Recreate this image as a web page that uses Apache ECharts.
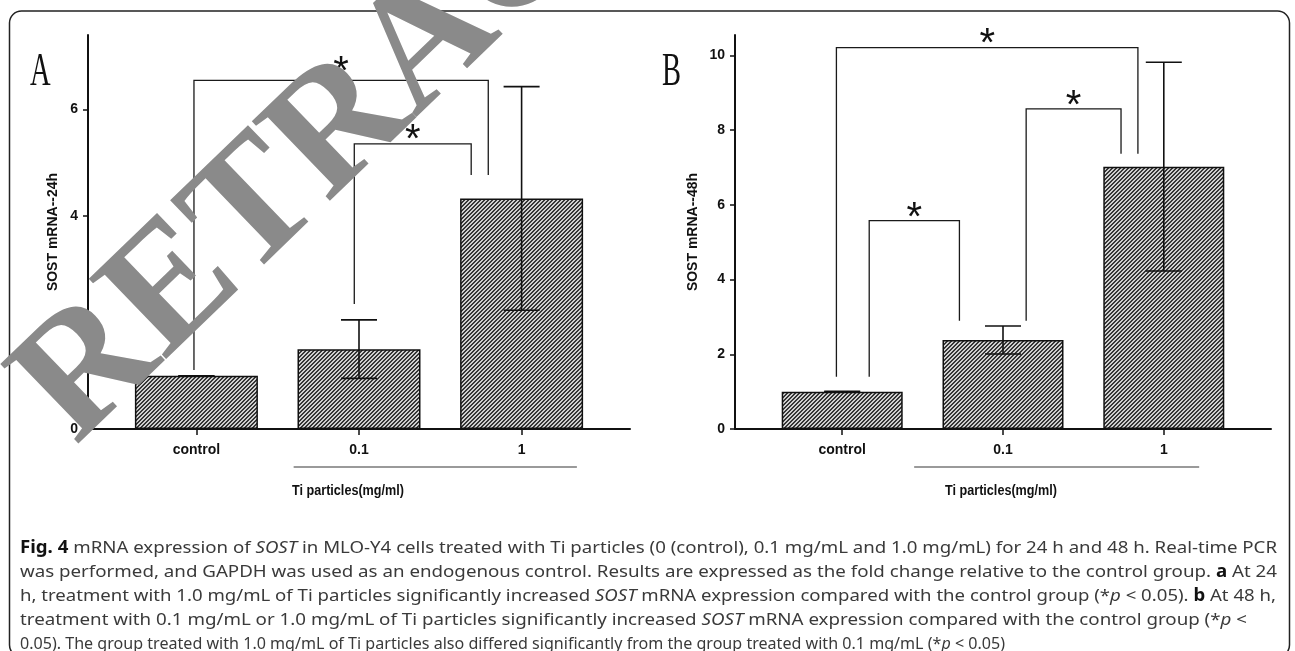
<!DOCTYPE html>
<html><head><meta charset="utf-8">
<script src="https://cdn.jsdelivr.net/npm/echarts@6/dist/echarts.min.js"></script>
<style>html,body{margin:0;padding:0;background:#fff}#c{width:1295px;height:651px}</style>
</head><body><div id="c"></div>
<script>
// ---------- data ----------
const categories = ['control', '0.1', '1'];
const catPos = [0, 1, 2];
const yTicksA = [0, 2, 4, 6];
const yTicksB = [0, 2, 4, 6, 8, 10];
const meanA = [1.0, 1.5, 4.33];
const sdA = [0, 0.55, 2.1];
const meanB = [1.0, 2.385, 7.025];
const sdB = [0.01, 0.375, 2.795];
// [xLeft, yLeftEnd, xRight, yRightEnd, yTop, yStar]
const bracketsA = [
  [-0.015, 1.11, 1.795, 4.77, 6.547, 6.86],
  [0.971, 2.35, 1.69, 4.77, 5.357, 5.59]
];
const bracketsB = [
  [-0.036, 1.40, 1.839, 7.37, 10.21, 10.53],
  [1.144, 2.90, 1.734, 7.37, 8.57, 8.88],
  [0.168, 1.40, 0.729, 2.90, 5.58, 5.88]
];
const groupSpanA = [0.598, 2.34];
const groupSpanB = [0.4475, 2.22];
const yNameA = 'SOST mRNA--24h';
const yNameB = 'SOST mRNA--48h';
const xTitle = 'Ti particles(mg/ml)';
const captionLines = [
  [['b', 'Fig. 4'], ['', ' mRNA expression of '], ['i', 'SOST'], ['', ' in MLO-Y4 cells treated with Ti particles (0 (control), 0.1 mg/mL and 1.0 mg/mL) for 24 h and 48 h. Real-time PCR']],
  [['', 'was performed, and GAPDH was used as an endogenous control. Results are expressed as the fold change relative to the control group. '], ['b', 'a'], ['', ' At 24']],
  [['', 'h, treatment with 1.0 mg/mL of Ti particles significantly increased '], ['i', 'SOST'], ['', ' mRNA expression compared with the control group (*'], ['i', 'p'], ['', ' < 0.05). '], ['b', 'b'], ['', ' At 48 h,']],
  [['', 'treatment with 0.1 mg/mL or 1.0 mg/mL of Ti particles significantly increased '], ['i', 'SOST'], ['', ' mRNA expression compared with the control group (*'], ['i', 'p'], ['', ' <']],
  [['', '0.05). The group treated with 1.0 mg/mL of Ti particles also differed significantly from the group treated with 0.1 mg/mL (*'], ['i', 'p'], ['', ' < 0.05)']]
];
const captionWidths = [1257, 1257, 1256, 1227, 985];

// ---------- helpers ----------
const SANS = 'Liberation Sans, Arial, sans-serif';
const CAP_FONT = 'Noto Sans';
const CAP_SIZE = 17;
const mctx = document.createElement('canvas').getContext('2d');
function segFont(k, size, fam, baseWeight) {
  const st = k === 'i' ? 'italic ' : '';
  const wt = k === 'b' ? 'bold ' : (baseWeight ? baseWeight + ' ' : '');
  return st + wt + size + 'px ' + fam;
}
function measureSegs(segs, size, fam, baseWeight) {
  let w = 0;
  segs.forEach(s => { mctx.font = segFont(s[0], size, fam, baseWeight); w += mctx.measureText(s[1]).width; });
  return w;
}
function hatch() {
  const c = document.createElement('canvas');
  c.width = 4; c.height = 4;
  const g = c.getContext('2d');
  g.fillStyle = '#cfcfcf'; g.fillRect(0, 0, 4, 4);
  g.fillStyle = '#353535';
  for (let i = 0; i < 4; i++) { g.fillRect(i, 3 - i, 1, 1); g.fillRect((i + 1) % 4, 3 - i, 1, 1); }
  return c;
}
const pattern = { image: hatch(), repeat: 'repeat' };

function xAxisCfg(gi) {
  return {
    type: 'value', gridIndex: gi, min: -2 / 3, max: 8 / 3,
    splitLine: { show: false },
    axisLine: { show: true, onZero: false, lineStyle: { color: '#111', width: 2 } },
    axisTick: { show: true, customValues: catPos, length: 6, lineStyle: { color: '#111', width: 1.5 } },
    axisLabel: { customValues: catPos, formatter: v => categories[Math.round(v)], margin: 14, color: '#111', fontWeight: 'bold', fontSize: 14, fontFamily: SANS }
  };
}
function yAxisCfg(gi, max, ticks, name, gap) {
  return {
    type: 'value', gridIndex: gi, min: 0, max: max,
    splitLine: { show: false },
    axisLine: { show: true, onZero: false, lineStyle: { color: '#111', width: 2 } },
    axisTick: { show: true, customValues: ticks, length: 5, lineStyle: { color: '#111', width: 1.5 } },
    axisLabel: { customValues: ticks, margin: 10, color: '#111', fontWeight: 'bold', fontSize: 14, fontFamily: SANS },
    name: name, nameLocation: 'middle', nameGap: gap,
    nameTextStyle: { color: '#111', fontWeight: 'bold', fontSize: 14, fontFamily: SANS }
  };
}
function barSeries(gi, means, w) {
  return {
    type: 'bar', xAxisIndex: gi, yAxisIndex: gi, barWidth: w, z: 2,
    data: means.map((m, i) => [catPos[i], m]),
    itemStyle: { color: pattern, borderColor: '#111', borderWidth: 1.5 }
  };
}
function errSeries(gi, means, sds) {
  return {
    type: 'custom', xAxisIndex: gi, yAxisIndex: gi, z: 3, clip: false,
    data: means.map((m, i) => [catPos[i], m, sds[i]]),
    renderItem: (p, api) => {
      const x = api.value(0), m = api.value(1), s = api.value(2);
      const t = api.coord([x, m + s]), b = api.coord([x, m - s]);
      const hw = 18, st = { stroke: '#111', lineWidth: 1.6 };
      return { type: 'group', children: [
        { type: 'line', shape: { x1: t[0], y1: t[1], x2: b[0], y2: b[1] }, style: st },
        { type: 'line', shape: { x1: t[0] - hw, y1: t[1], x2: t[0] + hw, y2: t[1] }, style: st },
        { type: 'line', shape: { x1: b[0] - hw, y1: b[1], x2: b[0] + hw, y2: b[1] }, style: st }
      ]};
    }
  };
}
const STAR_SIZE = 40;
function bracketSeries(gi, br) {
  return {
    type: 'custom', xAxisIndex: gi, yAxisIndex: gi, z: 4, clip: false,
    data: br,
    renderItem: (p, api) => {
      const v = [0, 1, 2, 3, 4, 5].map(i => api.value(i));
      const p1 = api.coord([v[0], v[1]]), p2 = api.coord([v[0], v[4]]);
      const p3 = api.coord([v[2], v[4]]), p4 = api.coord([v[2], v[3]]);
      const sy = api.coord([v[0], v[5]])[1];
      return { type: 'group', children: [
        { type: 'polyline', shape: { points: [p1, p2, p3, p4] }, style: { stroke: '#1a1a1a', lineWidth: 1.3, fill: null } },
        { type: 'text', x: (p2[0] + p3[0]) / 2, y: sy + STAR_SIZE * 0.24,
          style: { text: '*', fill: '#111', font: STAR_SIZE + 'px ' + SANS, textAlign: 'center', textVerticalAlign: 'middle' } }
      ]};
    }
  };
}
function spanSeries(gi, span) {
  return {
    type: 'custom', xAxisIndex: gi, yAxisIndex: gi, z: 1, clip: false,
    data: [[span[0], span[1]]],
    renderItem: (p, api) => {
      const a = api.coord([api.value(0), 0]), b = api.coord([api.value(1), 0]);
      return { type: 'line', shape: { x1: a[0], y1: a[1] + 38, x2: b[0], y2: b[1] + 38 }, style: { stroke: '#9a9a9a', lineWidth: 2 } };
    }
  };
}

// ---------- graphics ----------
const graphics = [];
graphics.push({ type: 'rect', z: 0, shape: { x: 9.5, y: 11, width: 1280, height: 646, r: 12 }, style: { fill: null, stroke: '#222', lineWidth: 1.5 } });
[['A', 30], ['B', 662]].forEach(([t, x]) => {
  graphics.push({ type: 'text', x: x, y: 73, scaleX: 0.62, z: 5,
    style: { text: t, fill: '#111', font: '46px Liberation Serif', textAlign: 'left', textVerticalAlign: 'middle' } });
});
const titleW = measureSegs([['', xTitle]], 14, SANS, 'bold');
[348, 1001].forEach(x => {
  graphics.push({ type: 'text', x: x, y: 491, scaleX: 112 / titleW, z: 5,
    style: { text: xTitle, fill: '#111', font: 'bold 14px ' + SANS, textAlign: 'center', textVerticalAlign: 'middle' } });
});
captionLines.forEach((segs, i) => {
  const w = measureSegs(segs, CAP_SIZE, CAP_FONT);
  const txt = segs.map(s => s[0] ? '{' + s[0] + '|' + s[1] + '}' : s[1]).join('');
  graphics.push({ type: 'text', x: 20, y: 548 + i * 24, scaleX: captionWidths[i] / w, z: 5,
    style: { text: txt, fill: '#3a3a3a', fontSize: CAP_SIZE, fontFamily: CAP_FONT, textAlign: 'left', textVerticalAlign: 'middle',
      rich: { b: { fontWeight: 'bold', fill: '#111', fontSize: CAP_SIZE, fontFamily: CAP_FONT },
              i: { fontStyle: 'italic', fill: '#3a3a3a', fontSize: CAP_SIZE, fontFamily: CAP_FONT } } } });
});
// retraction stamp
graphics.push({ type: 'text', x: 429, y: 44, rotation: 44 * Math.PI / 180, z: 50,
  style: { text: 'RETRACTED', fill: '#8a8a8a', font: 'bold 170px Liberation Serif', textAlign: 'center', textVerticalAlign: 'middle' } });

// ---------- chart ----------
const chart = echarts.init(document.getElementById('c'), null, { renderer: 'canvas' });
chart.setOption({
  animation: false,
  backgroundColor: '#fff',
  grid: [
    { left: 88, top: 35, width: 542, bottom: 222 },
    { left: 735, top: 35, width: 536, bottom: 222 }
  ],
  xAxis: [xAxisCfg(0), xAxisCfg(1)],
  yAxis: [yAxisCfg(0, 7.4, yTicksA, yNameA, 28), yAxisCfg(1, 10.55, yTicksB, yNameB, 35)],
  series: [
    barSeries(0, meanA, 123), barSeries(1, meanB, 121),
    errSeries(0, meanA, sdA), errSeries(1, meanB, sdB),
    bracketSeries(0, bracketsA), bracketSeries(1, bracketsB),
    spanSeries(0, groupSpanA), spanSeries(1, groupSpanB)
  ],
  graphic: { elements: graphics }
});
</script></body></html>
